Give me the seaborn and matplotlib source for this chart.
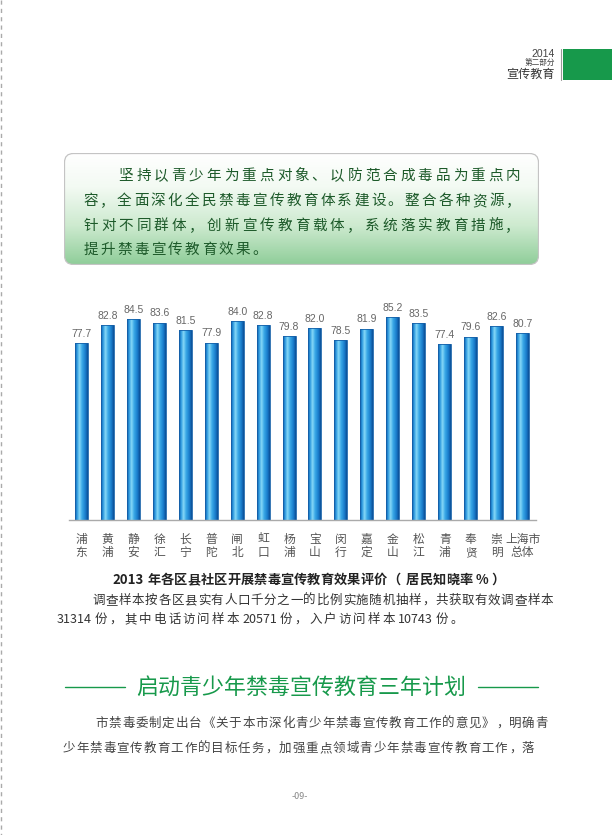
import matplotlib

matplotlib.use("Agg")
import re

import matplotlib.pyplot as plt
import numpy as np
import seaborn as sns
from matplotlib.colors import LinearSegmentedColormap
from matplotlib.patches import FancyBboxPatch, Rectangle


# Chart data: districts (two-line labels) and resident awareness rate (%)
DISTRICTS = [
    "浦\n东", "黄\n浦", "静\n安", "徐\n汇", "长\n宁", "普\n陀", "闸\n北", "虹\n口", "杨\n浦",
    "宝\n山", "闵\n行", "嘉\n定", "金\n山", "松\n江", "青\n浦", "奉\n贤", "崇\n明", "上海市\n总体",
]
AWARENESS = [77.7, 82.8, 84.5, 83.6, 81.5, 77.9, 84.0, 82.8, 79.8,
             82.0, 78.5, 81.9, 85.2, 83.5, 77.4, 79.6, 82.6, 80.7]

CAPTION = "2013 年各区县社区开展禁毒宣传教育效果评价（ 居民知晓率 % ）"
BOX_LINES = [
    "坚持以青少年为重点对象、以防范合成毒品为重点内",
    "容，全面深化全民禁毒宣传教育体系建设。整合各种资源，",
    "针对不同群体，创新宣传教育载体，系统落实教育措施，",
    "提升禁毒宣传教育效果。",
]
NOTE_LINE_1 = "调查样本按各区县实有人口千分之一的比例实施随机抽样，共获取有效调查样本"
NOTE_LINE_2 = "31314 份，其中电话访问样本 20571 份，入户访问样本 10743 份。"
HEADING = "启动青少年禁毒宣传教育三年计划"
BODY_LINE_1 = "市禁毒委制定出台《关于本市深化青少年禁毒宣传教育工作的意见》，明确青"
BODY_LINE_2 = "少年禁毒宣传教育工作的目标任务，加强重点领域青少年禁毒宣传教育工作，落"

W, H = 612, 835
GREEN = "#17994b"
PUNCT = "，。、"
Y_LOW = 27.2


def spread(ax, text, x0, pitch, y, narrow=6.0, space=None, **kw):
    # place characters one by one so the line is justified like the print layout;
    # runs of latin characters / digits are kept together as one piece
    x = x0
    for tok in re.findall(r"[\x21-\x7e]+| |.", text):
        if tok == " ":
            x += space if space is not None else pitch
            continue
        if ord(tok[0]) < 256:
            step = narrow * len(tok)
            ax.text(x + step / 2, y, tok, ha="center", va="baseline", **kw)
        elif tok in PUNCT:
            step = pitch
            ax.text(x + 1, y, tok, ha="left", va="baseline", **kw)
        else:
            step = pitch
            ax.text(x + step / 2, y, tok, ha="center", va="baseline", **kw)
        x += step


sns.set_theme(style="white")
plt.rcParams["font.family"] = ["Noto Sans CJK SC", "DejaVu Sans"]

fig = plt.figure(figsize=(W / 100, H / 100), dpi=100)
fig.patch.set_facecolor("white")

# page layer in pixel coordinates
page = fig.add_axes([0, 0, 1, 1])
page.set_xlim(0, W)
page.set_ylim(H, 0)
page.axis("off")

page.plot([1, 1], [0, H], color="#aaaaaa", lw=1, ls=(0, (3, 3)))

# header block
page.text(555, 57, "2014", ha="right", va="baseline", fontsize=7.5, color="#444444",
          family=["Liberation Sans", "DejaVu Sans"])
page.text(555, 66, "第二部分", ha="right", va="baseline", fontsize=5.5, color="#444444")
page.text(555, 78, "宣传教育", ha="right", va="baseline", fontsize=8.7, color="#333333")
page.plot([561, 561], [49, 80], color="#999999", lw=0.8)
page.add_patch(Rectangle((563, 49), 49, 31, facecolor=GREEN, edgecolor="none"))

# caption and note under the chart
spread(page, CAPTION, 115, 13.3, 584, narrow=6.6, space=6, fontsize=9.5,
       fontweight="bold", color="#222222")
spread(page, NOTE_LINE_1, 92, 13.18, 604, fontsize=9, color="#333333")
spread(page, NOTE_LINE_2, 60, 14.6, 623, narrow=5.8, space=5, fontsize=9, color="#333333")

# section heading
page.text(301, 694, HEADING, ha="center", va="baseline", fontsize=15.8, color=GREEN)
page.plot([65, 125], [687, 687], color=GREEN, lw=1)
page.plot([478, 538], [687, 687], color=GREEN, lw=1)

spread(page, BODY_LINE_1, 95, 13.33, 727, fontsize=9, color="#444444")
spread(page, BODY_LINE_2, 62, 13.51, 752, fontsize=9, color="#444444")

page.text(300, 799, "-09-", ha="center", va="baseline", fontsize=6.5, color="#888888")

# rounded green gradient box
bx0, by0, bw, bh = 64, 153, 475, 112
box = fig.add_axes([bx0 / W, 1 - (by0 + bh) / H, bw / W, bh / H])
box.set_xlim(0, bw)
box.set_ylim(bh, 0)
box.axis("off")
frame = FancyBboxPatch((0.5, 0.5), bw - 1, bh - 1, boxstyle="round,pad=0,rounding_size=9",
                       facecolor="none", edgecolor="#c4c4c4", lw=0.9)
box.add_patch(frame)
box_cmap = LinearSegmentedColormap.from_list(
    "box", [(0, "#ffffff"), (0.3, "#f3faf3"), (0.65, "#cdeacf"), (1, "#8fcd99")])
img = box.imshow(np.linspace(0, 1, 200).reshape(-1, 1), cmap=box_cmap, aspect="auto",
                 extent=[0, bw, bh, 0], zorder=0)
img.set_clip_path(frame)
box.set_xlim(0, bw)
box.set_ylim(bh, 0)

box_kw = dict(fontsize=10.5, color="#1d5a2a")
spread(box, BOX_LINES[0], 117 - bx0, 17.6, 180 - by0, **box_kw)
spread(box, BOX_LINES[1], 82 - bx0, 16.93, 205 - by0, **box_kw)
spread(box, BOX_LINES[2], 82 - bx0, 17.6, 230 - by0, **box_kw)
spread(box, BOX_LINES[3], 82 - bx0, 16.93, 254 - by0, **box_kw)

# bar chart
ax = fig.add_axes([68.5 / W, 1 - 520 / H, 467 / W, 220 / H])
ax.patch.set_alpha(0)
sns.barplot(x=DISTRICTS, y=AWARENESS, ax=ax, color="#1f8ed8", saturation=1, width=0.5,
            edgecolor="#1560a8", linewidth=0.6)
ax.set_xlim(-0.5, len(DISTRICTS) - 0.5)
ax.set_ylim(Y_LOW, Y_LOW + 220 / 3.5)

bar_cmap = LinearSegmentedColormap.from_list(
    "bar", [(0, "#0d58a4"), (0.15, "#2c98df"), (0.35, "#86d8f7"), (0.55, "#3aa8e6"),
            (0.8, "#1a7ecd"), (1, "#0b4f97")])
grad = np.linspace(0, 1, 64).reshape(1, -1)
for bar in ax.patches:
    x0, w = bar.get_x(), bar.get_width()
    top = bar.get_y() + bar.get_height()
    im = ax.imshow(grad, cmap=bar_cmap, aspect="auto", extent=[x0, x0 + w, Y_LOW, top],
                   zorder=bar.get_zorder() - 0.1)
    im.set_clip_path(bar)
    bar.set_facecolor("none")

ax.set_xlim(-0.5, len(DISTRICTS) - 0.5)
ax.set_ylim(Y_LOW, Y_LOW + 220 / 3.5)
ax.bar_label(ax.containers[0], fmt="%.1f", padding=3, fontsize=7.5, color="#666666",
             family=["Liberation Sans", "DejaVu Sans"])

for side in ["left", "right", "top"]:
    ax.spines[side].set_visible(False)
ax.spines["bottom"].set_color("#aaaaaa")
ax.spines["bottom"].set_linewidth(1)
ax.set_yticks([])
ax.set_ylabel("")
ax.tick_params(axis="x", length=0, pad=9, labelsize=8.5, labelcolor="#555555")
for lbl in ax.get_xticklabels():
    lbl.set_linespacing(1.05)

fig.savefig("out.png", dpi=100, facecolor="white")
